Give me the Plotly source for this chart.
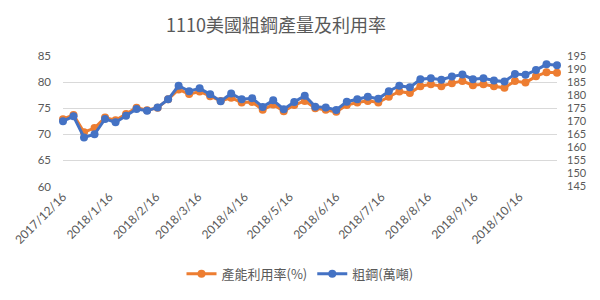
import pandas as pd
import plotly.graph_objects as go

dates = pd.date_range("2017-12-16", periods=48, freq="7D")

utilization = [72.9, 73.7, 70.4, 71.2, 73.2, 72.7, 73.9, 75.1, 74.6, 75.1,
               76.7, 78.6, 77.7, 78.2, 77.3, 76.4, 77.0, 76.1, 76.2, 74.7,
               75.7, 74.4, 75.6, 76.4, 75.0, 74.7, 74.3, 75.6, 76.1, 76.4,
               76.1, 77.2, 78.2, 77.9, 79.2, 79.6, 79.2, 79.8, 80.2, 79.4,
               79.6, 79.2, 78.9, 80.2, 79.9, 81.1, 81.9, 81.8]

production = [170.0, 171.9, 163.8, 165.0, 170.9, 169.6, 172.1, 174.7, 174.0, 175.3,
              178.4, 183.6, 181.5, 182.6, 180.3, 177.7, 180.6, 178.4, 178.8, 175.5,
              178.0, 174.6, 177.4, 179.8, 175.6, 175.3, 174.3, 177.5, 178.4, 179.4,
              178.6, 181.5, 183.6, 183.0, 186.1, 186.5, 185.9, 187.1, 187.9, 186.1,
              186.5, 185.6, 185.2, 188.1, 187.8, 189.6, 191.8, 191.5]

tick_dates = ["2017-12-16", "2018-01-16", "2018-02-16", "2018-03-16", "2018-04-16",
              "2018-05-16", "2018-06-16", "2018-07-16", "2018-08-16", "2018-09-16",
              "2018-10-16"]
tick_labels = ["2017/12/16", "2018/1/16", "2018/2/16", "2018/3/16", "2018/4/16",
               "2018/5/16", "2018/6/16", "2018/7/16", "2018/8/16", "2018/9/16",
               "2018/10/16"]

title_text = "1110美國粗鋼產量及利用率"
name_util = "產能利用率(%)"
name_prod = "粗鋼(萬噸)"

ORANGE = "#ED7D31"
BLUE = "#4472C4"
TXT = "#595959"
FONT = "Lato, Noto Sans CJK TC, sans-serif"
CJK = "Noto Sans CJK TC, sans-serif"

fig = go.Figure()
fig.add_trace(go.Scatter(
    x=dates, y=utilization, name=name_util, mode="lines+markers",
    line=dict(color=ORANGE, width=3), marker=dict(color=ORANGE, size=8),
    cliponaxis=False, yaxis="y"))
fig.add_trace(go.Scatter(
    x=dates, y=production, name=name_prod, mode="lines+markers",
    line=dict(color=BLUE, width=3), marker=dict(color=BLUE, size=8),
    cliponaxis=False, yaxis="y2"))

fig.update_layout(
    width=600, height=300,
    margin=dict(l=62, r=43, t=56, b=111),
    paper_bgcolor="white", plot_bgcolor="white",
    font=dict(family=FONT, color=TXT, size=12),
    title=dict(text=title_text, xref="container", x=0.46, xanchor="center",
               yref="container", y=0.915, yanchor="middle",
               font=dict(family=CJK, size=18, color=TXT)),
    xaxis=dict(
        type="date", range=["2017-12-16", "2018-11-10"],
        tickvals=tick_dates, ticktext=tick_labels, tickangle=-45,
        showgrid=False, showline=False, zeroline=False, ticks="",
        tickfont=dict(size=12, color=TXT)),
    yaxis=dict(
        range=[60, 85], tickvals=[60, 65, 70, 75, 80, 85],
        showgrid=True, gridcolor="#D9D9D9", gridwidth=1,
        zeroline=False, showline=False, ticks="", ticklabelstandoff=11,
        tickfont=dict(size=11.5, color=TXT)),
    yaxis2=dict(
        range=[145, 195], tickvals=list(range(145, 200, 5)),
        overlaying="y", side="right", showgrid=False,
        zeroline=False, showline=False, ticks="", ticklabelstandoff=9,
        tickfont=dict(size=11, color=TXT)),
    legend=dict(orientation="h", xref="container", x=0.5, xanchor="center",
                yref="container", y=0.087, yanchor="middle",
                font=dict(family=CJK, size=13, color=TXT),
                itemwidth=30, traceorder="normal"),
    showlegend=True,
)

fig.write_html("out.html")
